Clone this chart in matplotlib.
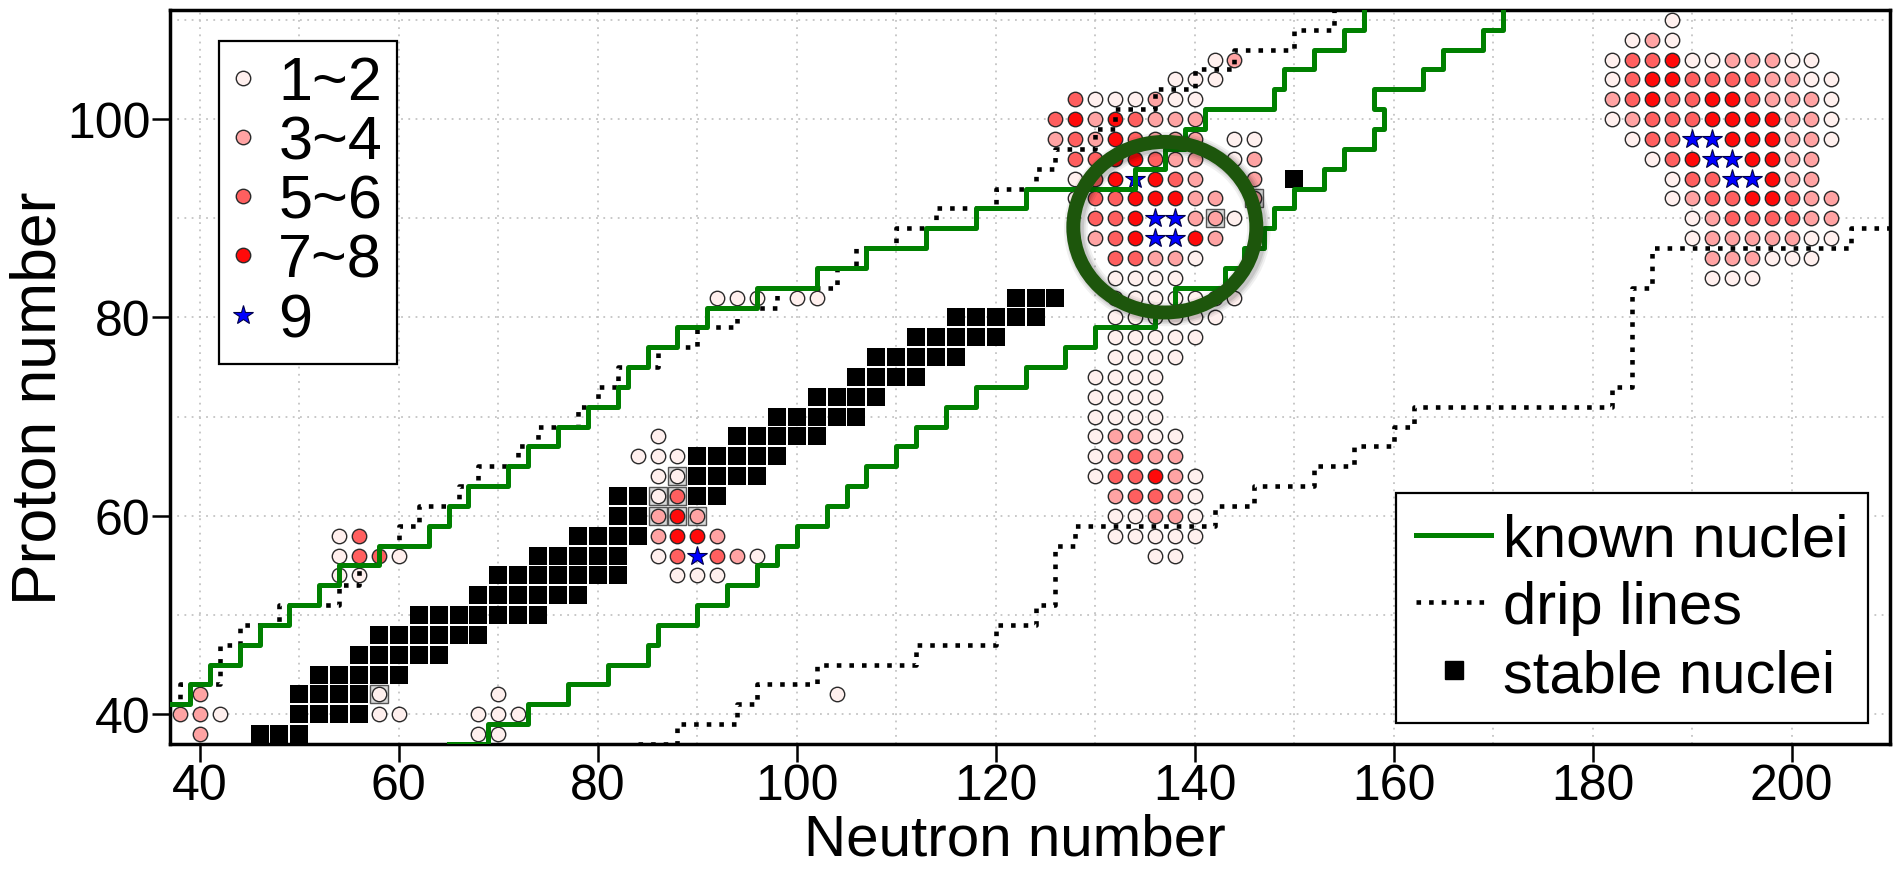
import matplotlib
matplotlib.use('Agg')
import matplotlib.pyplot as plt
from matplotlib.patches import Ellipse
from matplotlib.lines import Line2D

plt.rcParams['font.family'] = ['Liberation Sans', 'DejaVu Sans']

# even-even nuclei rows: (Z, first N, levels every 2 in N); 0 = empty, 9 = star
rows_light = [
    (42, 40, [2]), (40, 38, [2, 2, 1]), (38, 40, [2]),
    (42, 58, [1]), (40, 58, [1, 1]),
    (58, 54, [1, 3]), (56, 54, [1, 3, 3, 1]), (54, 54, [1, 1]),
    (42, 70, [1]), (40, 68, [1, 1, 1]), (38, 68, [1, 1]),
    (42, 104, [1]),
]
rows_rare_earth = [
    (68, 86, [1]),
    (66, 84, [1, 1, 1]),
    (64, 86, [1, 1]),
    (62, 86, [1, 3]),
    (60, 86, [2, 4, 2]),
    (58, 86, [2, 4, 4, 2]),
    (56, 86, [1, 3, 9, 3, 2, 1]),
    (54, 88, [1, 1, 1]),
    (82, 92, [1, 1, 1, 0, 1, 1]),
]
rows_actinide = [
    (106, 142, [1, 2]),
    (104, 138, [1, 1, 1]),
    (102, 128, [3, 1, 1, 1, 2, 1, 1]),
    (100, 126, [3, 4, 2, 4, 3, 2, 2, 2]),
    (98, 126, [2, 3, 2, 4, 3, 2, 2, 2, 0, 1, 1]),
    (96, 128, [3, 3, 4, 4, 3, 2, 2, 0, 1, 2]),
    (94, 128, [1, 3, 4, 9, 4, 3, 2, 0, 0, 2]),
    (92, 128, [1, 3, 3, 4, 4, 4, 2, 2, 0, 2]),
    (90, 130, [3, 3, 4, 9, 9, 2, 2, 1]),
    (88, 130, [2, 3, 4, 9, 9, 4, 2]),
    (86, 132, [3, 3, 2, 2, 1]),
    (84, 132, [1, 1, 1, 1]),
    (82, 132, [1, 1, 1, 1, 1, 1, 1]),
    (80, 132, [1, 1, 1, 1, 1, 1]),
    (78, 132, [1, 1, 1, 1, 1]),
    (76, 132, [1, 1, 1, 1]),
    (74, 130, [1, 1, 1, 1]),
    (72, 130, [1, 1, 1, 1]),
    (70, 130, [1, 1, 1, 1]),
    (68, 130, [1, 2, 2, 1, 1]),
    (66, 130, [1, 2, 3, 2, 2]),
    (64, 130, [1, 3, 3, 4, 2, 1]),
    (62, 132, [2, 3, 3, 2, 1]),
    (60, 132, [1, 1, 2, 2, 1]),
    (58, 132, [1, 1, 1, 1, 1]),
    (56, 136, [1, 1]),
]
rows_superheavy = [
    (110, 188, [1]),
    (108, 184, [1, 2, 1]),
    (106, 182, [1, 3, 3, 4, 1, 1, 2, 2, 2, 1, 1]),
    (104, 182, [1, 3, 4, 4, 3, 3, 3, 3, 2, 2, 1, 1]),
    (102, 182, [2, 3, 4, 3, 3, 4, 4, 3, 2, 2, 2, 1]),
    (100, 182, [1, 2, 3, 3, 3, 4, 4, 4, 4, 2, 2, 1]),
    (98, 184, [1, 3, 3, 9, 9, 4, 4, 4, 2, 2, 1]),
    (96, 186, [1, 3, 4, 9, 9, 4, 4, 2, 2]),
    (94, 188, [1, 3, 3, 9, 9, 4, 2, 2]),
    (92, 188, [1, 2, 3, 3, 4, 4, 3, 2, 2]),
    (90, 190, [1, 2, 3, 3, 3, 3, 2, 2]),
    (88, 190, [1, 2, 2, 2, 2, 2, 1, 1]),
    (86, 192, [2, 2, 2, 1, 1, 1]),
    (84, 192, [1, 1, 1]),
]

# stable (and very long lived) even-even nuclei: Z -> N values
stable = {
    38: [46, 48, 50], 40: [50, 52, 54, 56], 42: [50, 52, 54, 56, 58],
    44: [52, 54, 56, 58, 60], 46: [56, 58, 60, 62, 64],
    48: [58, 60, 62, 64, 66, 68], 50: [62, 64, 66, 68, 70, 72, 74],
    52: [68, 70, 72, 74, 76, 78], 54: [70, 72, 74, 76, 78, 80, 82],
    56: [74, 76, 78, 80, 82], 58: [78, 80, 82, 84],
    60: [82, 84, 86, 88, 90], 62: [82, 84, 86, 88, 90, 92],
    64: [88, 90, 92, 94, 96], 66: [90, 92, 94, 96, 98],
    68: [94, 96, 98, 100, 102], 70: [98, 100, 102, 104, 106],
    72: [102, 104, 106, 108], 74: [106, 108, 110, 112],
    76: [108, 110, 112, 114, 116], 78: [112, 114, 116, 118, 120],
    80: [116, 118, 120, 122, 124], 82: [122, 124, 126],
    90: [142], 92: [146], 94: [150],
}

# known-nuclei limits (step lines, post)
known_p_N = [36, 39, 41, 44, 46, 49, 52, 54, 58, 63, 65, 67, 71, 73, 76, 79, 82, 83,
             85, 88, 91, 96, 102, 107, 113, 118, 123, 134, 137, 139, 141, 148, 149,
             152, 155, 157]
known_p_Z = [41, 43, 45, 47, 49, 51, 53, 55, 57, 59, 61, 63, 65, 67, 69, 71, 73, 75,
             77, 79, 81, 83, 85, 87, 89, 91, 93, 95, 97, 99, 101, 103, 105,
             107, 109, 113]
known_n_N = [65, 69, 73, 77, 81, 85, 86, 90, 93, 96, 98, 100, 103, 105, 107, 110, 112,
             115, 118, 123, 127, 130, 136, 138, 143, 145, 147, 148, 150, 153, 155,
             158, 159, 158, 163, 165, 169, 171]
known_n_Z = [37, 39, 41, 43, 45, 47, 49, 51, 53, 55, 57, 59, 61, 63, 65, 67, 69,
             71, 73, 75, 77, 79, 81, 83, 85, 87, 89, 91, 93, 95, 97,
             99, 101, 103, 105, 107, 109, 113]

# drip lines (step lines, post)
drip_p_N = [36, 38, 42, 44, 48, 54, 56, 58, 60, 62, 66, 68, 72, 74, 78, 80, 82, 86,
            90, 94, 98, 104, 106, 110, 114, 120, 124, 126, 130, 132, 136, 140, 144,
            150, 154]
drip_p_Z = [41, 43, 47, 49, 51, 53, 55, 57, 59, 61, 63, 65, 67, 69, 71, 73, 75, 77,
            79, 81, 83, 85, 87, 89, 91, 93, 95, 97, 99, 101, 103, 105, 107,
            109, 113]
drip_n_N = [84, 88, 94, 96, 102, 112, 120, 124, 126, 128, 142, 146, 152, 156, 160,
            162, 182, 184, 186, 206, 212]
drip_n_Z = [37, 39, 41, 43, 45, 47, 49, 51, 57, 59, 61, 63, 65, 67, 69,
            71, 73, 83, 87, 89, 89]

level_labels = ['1~2', '3~4', '5~6', '7~8', '9']
level_colors = {1: '#fff0ee', 2: '#ffa3a3', 3: '#ff5f5f', 4: '#ff0a0a'}


def expand(rows):
    pts = []
    for z, n0, levels in rows:
        for i, lev in enumerate(levels):
            if lev:
                pts.append((n0 + 2 * i, z, lev))
    return pts


points = expand(rows_light + rows_rare_earth + rows_actinide + rows_superheavy)
occupied = {(n, z) for n, z, _ in points}

fig = plt.figure(figsize=(18.98, 8.7), dpi=100)
ax = fig.add_axes([0.0896, 0.1437, 0.9062, 0.8437])

# stable nuclei
sn = [n for z, ns in stable.items() for n in ns if (n, z) not in occupied]
sz = [z for z, ns in stable.items() for n in ns if (n, z) not in occupied]
ax.plot(sn, sz, ls='none', marker='s', ms=12.8, mfc='black', mec='black', mew=0, zorder=3)
on = [n for z, ns in stable.items() for n in ns if (n, z) in occupied]
oz = [z for z, ns in stable.items() for n in ns if (n, z) in occupied]
ax.plot(on, oz, ls='none', marker='s', ms=12.8, mfc='#d8d8d8', mec='#555555', mew=1.0, zorder=3)

for lev, col in level_colors.items():
    xs = [n for n, z, l in points if l == lev]
    ys = [z for n, z, l in points if l == lev]
    ax.plot(xs, ys, ls='none', marker='o', ms=10.4, mfc=col, mec='#2a2a2a', mew=1.0, zorder=4)
xs = [n for n, z, l in points if l == 9]
ys = [z for n, z, l in points if l == 9]
ax.plot(xs, ys, ls='none', marker='*', ms=15, mfc='#0000ff', mec='#00004a', mew=0.8, zorder=5)

dots = (0, (1, 1.75))
ax.step(drip_p_N, drip_p_Z, where='post', color='black', lw=3.3, ls=dots, zorder=6)
ax.step(drip_n_N, drip_n_Z, where='post', color='black', lw=3.3, ls=dots, zorder=6)
ax.step(known_p_N, known_p_Z, where='post', color='#008000', lw=3.6, zorder=7)
ax.step(known_n_N, known_n_Z, where='post', color='#008000', lw=3.6, zorder=7)

# highlighted region
for alpha, extra in [(0.06, 7), (0.08, 4), (0.10, 1.5)]:
    ax.add_patch(Ellipse((137.25, 88.9), 18.4, 17.2, fill=False, lw=10 + extra,
                         ec='black', alpha=alpha, zorder=8))
ax.add_patch(Ellipse((137.0, 89.1), 18.4, 17.2, fill=False, lw=10, ec='#1d560c', zorder=9))

ax.set_xlim(37, 209.9)
ax.set_ylim(37, 111)
ax.set_xticks(range(40, 201, 20))
ax.set_xticks(range(40, 201, 10), minor=True)
ax.set_yticks(range(40, 101, 20))
ax.set_yticks(range(40, 111, 10), minor=True)
ax.grid(True, which='both', ls=(0, (1, 3)), color='#c4c4c4', lw=1.3, zorder=0)
ax.set_axisbelow(True)
ax.tick_params(which='major', length=13, width=1.8, labelsize=36, pad=1)
ax.tick_params(which='minor', length=0)
for s in ax.spines.values():
    s.set_linewidth(2.5)
ax.set_xlabel('Neutron number', fontsize=42)
ax.xaxis.set_label_coords(0.491, -0.094)
ax.set_ylabel('Proton number', fontsize=45)
ax.yaxis.set_label_coords(-0.059, 0.473)

handles1 = [Line2D([], [], ls='none', marker='o', ms=10.4, mfc=level_colors[i],
                   mec='#2a2a2a', mew=1.0) for i in (1, 2, 3, 4)]
handles1.append(Line2D([], [], ls='none', marker='*', ms=15, mfc='#0000ff',
                       mec='#00004a', mew=0.8))
leg1 = ax.legend(handles1, level_labels, loc='upper left', bbox_to_anchor=(0.0285, 0.958),
                 fontsize=44, fancybox=False, edgecolor='black', framealpha=1,
                 borderaxespad=0, borderpad=0.24, handlelength=0.31, handletextpad=0.42,
                 labelspacing=0.035)
leg1.get_frame().set_linewidth(1.6)
leg1.set_zorder(20)
ax.add_artist(leg1)

handles2 = [Line2D([], [], color='#008000', lw=3.6),
            Line2D([], [], color='black', lw=3.3, ls=dots),
            Line2D([], [], ls='none', marker='s', ms=12.8, mfc='black', mec='black')]
leg2 = ax.legend(handles2, ['known nuclei', 'drip lines', 'stable nuclei'],
                 loc='lower right', bbox_to_anchor=(0.9872, 0.0286), fontsize=43,
                 fancybox=False, edgecolor='black', framealpha=1, borderaxespad=0,
                 borderpad=0.33, handlelength=1.25, handletextpad=0.2, labelspacing=0.216)
leg2.get_frame().set_linewidth(1.6)
leg2.set_zorder(20)

fig.savefig('out.png', dpi=100)
